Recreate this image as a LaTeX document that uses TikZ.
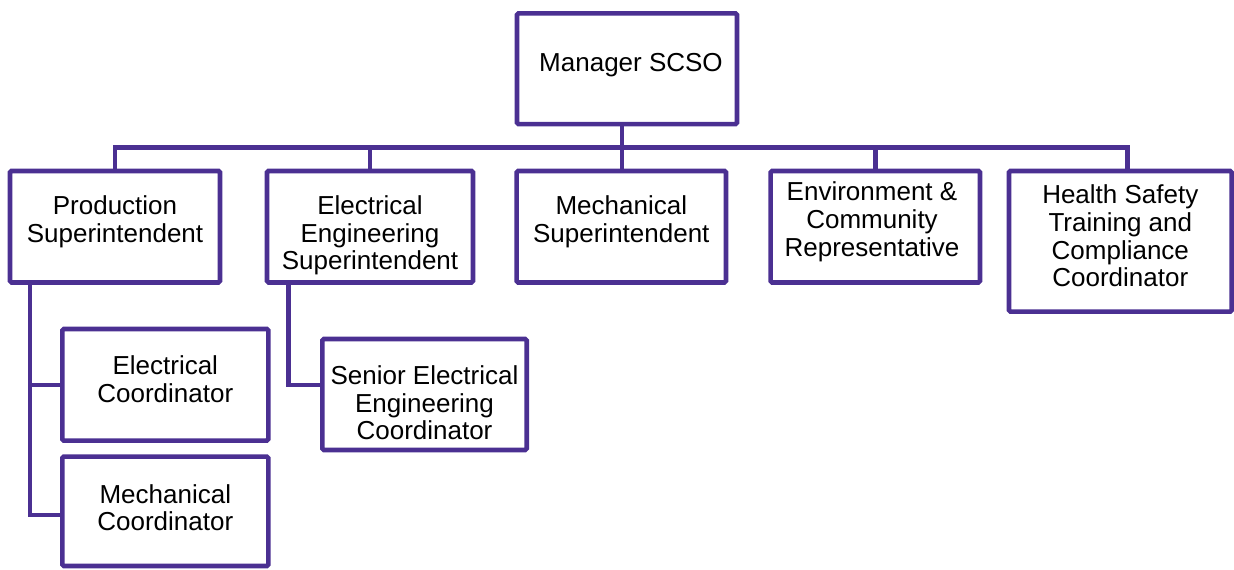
\documentclass[tikz,border=0pt]{standalone}
\usepackage{fontspec}
\setmainfont{Liberation Sans}
\definecolor{orgline}{RGB}{75,48,146}
\begin{document}
\begin{tikzpicture}[x=1pt,y=1pt,
  box/.style={draw=orgline, line width=4.6pt, rounded corners=1.5pt, fill=white,
    minimum width=#1, inner sep=0pt},
  txt/.style={align=center, inner sep=0pt, font=\fontsize{26}{27.8}\selectfont},
  wire/.style={draw=orgline, line width=4.6pt}]
\useasboundingbox (0,0) rectangle (1234,-570);

\coordinate (hub) at (622,-147.5);

% top level
\node[box=220pt, minimum height=110.7pt] (mgr) at (627,-68.7) {};

% second level
\node[box=210pt, minimum height=111.5pt] (prod) at (115,-226.7) {};
\node[box=206pt, minimum height=111.5pt] (eng)  at (370,-226.7) {};
\node[box=209.3pt, minimum height=111.5pt] (mech) at (621.3,-226.7) {};
\node[box=209.3pt, minimum height=111.5pt] (env)  at (875.3,-226.7) {};
\node[box=222.7pt, minimum height=140.7pt] (hsc)  at (1120.3,-241.3) {};

% third level
\node[box=206pt, minimum height=111.7pt] (ec) at (165.3,-384.8) {};
\node[box=206pt, minimum height=109.3pt] (mc) at (165.3,-511.3) {};
\node[box=204.4pt, minimum height=111pt] (sr) at (424.5,-394.5) {};

% wiring
\draw[wire] ([xshift=-5pt]mgr.south) -- (hub);
\draw[wire] (hub) -| (prod.north);
\draw[wire] (hub) -| (eng.north);
\draw[wire] (hub) -- (hub |- mech.north);
\draw[wire] (hub) -| (env.north);
\draw[wire] (hub) -| ([xshift=7.2pt]hsc.north);
\draw[wire] ([xshift=22.3pt]prod.south west) |- (ec.west);
\draw[wire] ([xshift=22.3pt]prod.south west) |- ([yshift=-3.7pt]mc.west);
\draw[wire] ([xshift=23.7pt]eng.south west) |- ([yshift=9.5pt]sr.west);

% labels
\node[txt] (mgrT)  at (631,-65) {Manager SCSO};
\node[txt] (prodT) at (115,-222) {Production\\Superintendent};
\node[txt] (engT)  at (370,-235.3) {Electrical\\Engineering\\Superintendent};
\node[txt] (mechT) at (621.3,-222) {Mechanical\\Superintendent};
\node[txt] (envT)  at (872,-222) {Environment \&\\Community\\Representative};
\node[txt] (hscT)  at (1120.3,-236) {Health Safety\\Training and\\Compliance\\Coordinator};
\node[txt] (ecT)   at (165.3,-379.5) {Electrical\\Coordinator};
\node[txt] (mcT)   at (165.3,-507.8) {Mechanical\\Coordinator};
\node[txt] (srT)   at (424.5,-402.8) {Senior Electrical\\Engineering\\Coordinator};
\end{tikzpicture}
\end{document}
